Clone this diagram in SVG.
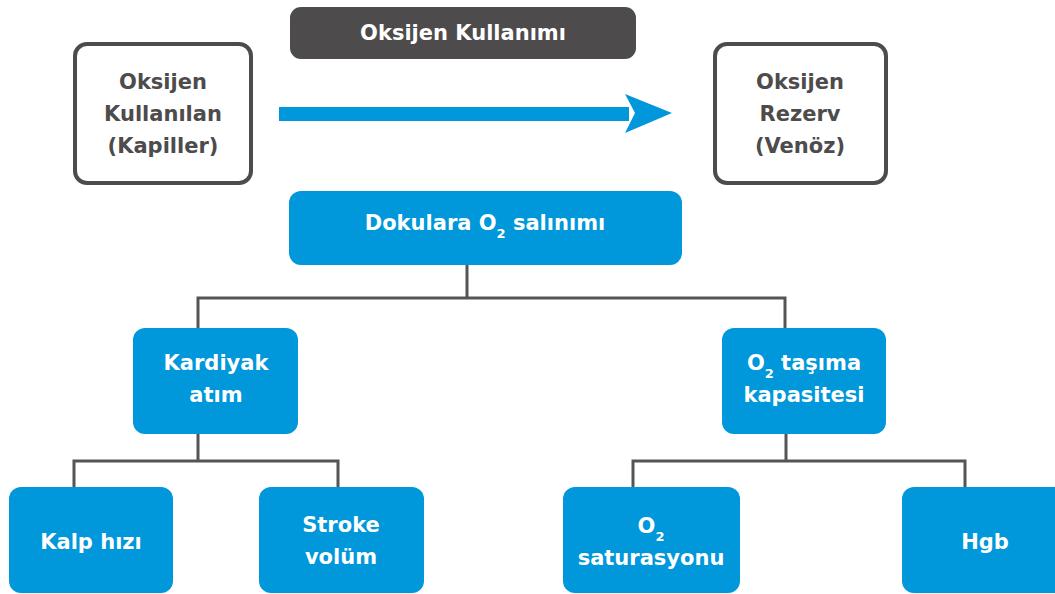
<svg xmlns="http://www.w3.org/2000/svg" width="1055" height="594" viewBox="0 0 1055 594">
<style>
.blue{fill:#0097db;}
.wt{fill:#fff;font-family:"DejaVu Sans",sans-serif;font-weight:bold;font-size:21px;text-anchor:middle;}
.gt{fill:#4d4b4c;font-family:"DejaVu Sans",sans-serif;font-weight:bold;font-size:21px;text-anchor:middle;}
.outl{fill:#fff;stroke:#4d4b4c;stroke-width:4;}
.conn{fill:none;stroke:#555;stroke-width:3;}
.sub{font-size:13px;}
</style>
<rect width="1055" height="594" fill="#fff"/>
<g id="connectors">
<polyline class="conn" points="467,265 467,298"/>
<polyline class="conn" points="198,328 198,298 785,298 785,328"/>
<polyline class="conn" points="198,434 198,461"/>
<polyline class="conn" points="74,487 74,461 338,461 338,487"/>
<polyline class="conn" points="786,434 786,461"/>
<polyline class="conn" points="633,487 633,461 965,461 965,487"/>
</g>
<g id="title">
<rect x="290" y="7" width="346" height="52" rx="11" fill="#4d4b4c"/>
<text class="wt" x="463" y="40">Oksijen Kullanımı</text>
</g>
<g id="arrow">
<rect class="blue" x="279" y="107" width="350" height="14"/>
<polygon class="blue" points="625,94 672,113 625,133 635,113"/>
</g>
<g id="kapiller">
<rect class="outl" x="75" y="44" width="176" height="139" rx="12"/>
<text class="gt" x="163" y="89">Oksijen</text>
<text class="gt" x="163" y="121">Kullanılan</text>
<text class="gt" x="163" y="153">(Kapiller)</text>
</g>
<g id="venoz">
<rect class="outl" x="715" y="44" width="171" height="139" rx="12"/>
<text class="gt" x="800" y="89">Oksijen</text>
<text class="gt" x="800" y="121">Rezerv</text>
<text class="gt" x="800" y="153">(Venöz)</text>
</g>
<g id="dokulara">
<rect class="blue" x="289" y="191" width="393" height="74" rx="12"/>
<text class="wt" x="485" y="230">Dokulara O<tspan class="sub" dy="8">2</tspan><tspan dy="-8"> salınımı</tspan></text>
</g>
<g id="kardiyak">
<rect class="blue" x="133" y="328" width="165" height="106" rx="12"/>
<text class="wt" x="216" y="370">Kardiyak</text>
<text class="wt" x="216" y="402">atım</text>
</g>
<g id="tasima">
<rect class="blue" x="722" y="328" width="164" height="106" rx="12"/>
<text class="wt" x="804" y="370">O<tspan class="sub" dy="8">2</tspan><tspan dy="-8"> taşıma</tspan></text>
<text class="wt" x="804" y="402">kapasitesi</text>
</g>
<g id="kalp">
<rect class="blue" x="9" y="487" width="164" height="106" rx="12"/>
<text class="wt" x="91" y="549">Kalp hızı</text>
</g>
<g id="stroke">
<rect class="blue" x="259" y="487" width="165" height="106" rx="12"/>
<text class="wt" x="341" y="532">Stroke</text>
<text class="wt" x="341" y="564">volüm</text>
</g>
<g id="saturasyon">
<rect class="blue" x="563" y="487" width="177" height="106" rx="12"/>
<text class="wt" x="651" y="533">O<tspan class="sub" dy="8">2</tspan></text>
<text class="wt" x="651" y="565">saturasyonu</text>
</g>
<g id="hgb">
<rect class="blue" x="902" y="487" width="166" height="106" rx="12"/>
<text class="wt" x="985" y="549">Hgb</text>
</g>
</svg>
